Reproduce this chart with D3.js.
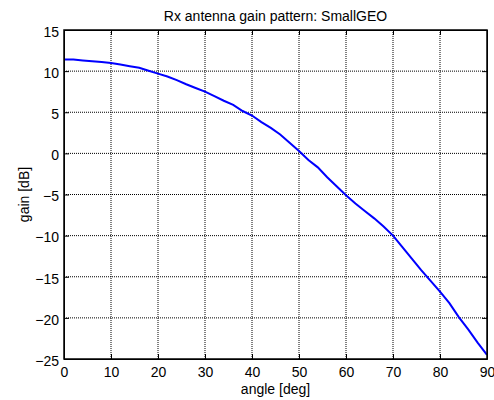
<!DOCTYPE html>
<html>
<head>
<meta charset="utf-8">
<script src="https://cdn.jsdelivr.net/npm/d3@7"></script>
<style>
  body { margin: 0; background: #fff; }
  text { font-family: "Liberation Sans", Arial, sans-serif; }
</style>
</head>
<body>
<div id="chart"></div>
<script>
const angles = [0, 2, 4, 6, 8, 10, 12, 14, 16, 18, 20, 22, 24, 26, 28, 30, 32, 34, 36, 38, 40,
  42, 44, 46, 48, 50, 52, 54, 56, 58, 60, 62, 64, 66, 68, 70, 72, 74, 76, 78, 80, 82, 84, 86, 88, 90]
const gains = [11.4, 11.4, 11.3, 11.2, 11.1, 11.0, 10.8, 10.6, 10.4, 10.05, 9.7, 9.35, 8.9, 8.4,
  7.95, 7.5, 6.95, 6.4, 5.9, 5.15, 4.6, 3.8, 3.1, 2.3, 1.3, 0.3, -0.8, -1.7, -2.9, -4.0, -5.1,
  -6.1, -7.0, -7.9, -8.9, -10.0, -11.4, -12.8, -14.2, -15.5, -16.8, -18.2, -19.9, -21.4, -23.0, -24.5]
const xTicks = [0, 10, 20, 30, 40, 50, 60, 70, 80, 90]
const yTicks = [-25, -20, -15, -10, -5, 0, 5, 10, 15]

const width = 494, height = 400
const margin = { top: 30, right: 7, bottom: 41, left: 64 }
const fontSize = 14

const svg = d3.select('#chart').append('svg')
  .attr('width', width)
  .attr('height', height)

const x = d3.scaleLinear().domain([0, 90]).range([margin.left, width - margin.right])
const y = d3.scaleLinear().domain([-25, 15]).range([height - margin.bottom, margin.top])

// grid (dotted, like matlab)
const grid = svg.append('g')
  .attr('stroke', '#000')
  .attr('stroke-width', 1)
  .attr('stroke-dasharray', '1,1')
grid.selectAll('line.gx')
  .data(xTicks.slice(1, -1))
  .join('line')
  .attr('x1', (d) => x(d)).attr('x2', (d) => x(d))
  .attr('y1', y(15)).attr('y2', y(-25))
grid.selectAll('line.gy')
  .data(yTicks.slice(1, -1))
  .join('line')
  .attr('y1', (d) => y(d)).attr('y2', (d) => y(d))
  .attr('x1', x(0)).attr('x2', x(90))

// curve
const line = d3.line()
  .x((d, i) => x(angles[i]))
  .y((d) => y(d))
svg.append('path')
  .datum(gains)
  .attr('fill', 'none')
  .attr('stroke', '#0000ff')
  .attr('stroke-width', 2)
  .attr('d', line)

// axes, ticks pointing inward on all sides
const tickLen = 5
const axisStyle = (g) => {
  g.select('.domain').attr('stroke', '#000').attr('stroke-width', 1)
  g.selectAll('.tick line').attr('stroke', '#000')
  g.selectAll('text')
    .attr('font-size', fontSize)
    .attr('fill', '#000')
    .attr('font-family', '"Liberation Sans", Arial, sans-serif')
}

svg.append('g')
  .attr('transform', `translate(0,${y(-25)})`)
  .call(d3.axisBottom(x).tickValues(xTicks).tickSizeInner(-tickLen).tickSizeOuter(0).tickPadding(8))
  .call(axisStyle)
svg.append('g')
  .attr('transform', `translate(0,${y(15)})`)
  .call(d3.axisTop(x).tickValues(xTicks).tickSizeInner(-tickLen).tickSizeOuter(0).tickFormat(''))
  .call(axisStyle)
svg.append('g')
  .attr('transform', `translate(${x(0)},0)`)
  .call(d3.axisLeft(y).tickValues(yTicks).tickSizeInner(-tickLen).tickSizeOuter(0).tickPadding(5))
  .call(axisStyle)
  .call((g) => g.selectAll('text').attr('dy', '0.45em'))
svg.append('g')
  .attr('transform', `translate(${x(90)},0)`)
  .call(d3.axisRight(y).tickValues(yTicks).tickSizeInner(-tickLen).tickSizeOuter(0).tickFormat(''))
  .call(axisStyle)

// frame
svg.append('rect')
  .attr('x', x(0)).attr('y', y(15))
  .attr('width', x(90) - x(0)).attr('height', y(-25) - y(15))
  .attr('fill', 'none')
  .attr('stroke', '#000')
  .attr('stroke-width', 1.5)

// labels
svg.append('text')
  .attr('x', (x(0) + x(90)) / 2).attr('y', 21)
  .attr('text-anchor', 'middle')
  .attr('font-size', fontSize)
  .text('Rx antenna gain pattern: SmallGEO')
svg.append('text')
  .attr('x', (x(0) + x(90)) / 2).attr('y', 394)
  .attr('text-anchor', 'middle')
  .attr('font-size', fontSize)
  .text('angle [deg]')
svg.append('text')
  .attr('transform', `translate(29,${(y(15) + y(-25)) / 2}) rotate(-90)`)
  .attr('text-anchor', 'middle')
  .attr('font-size', fontSize)
  .text('gain [dB]')
</script>
</body>
</html>
